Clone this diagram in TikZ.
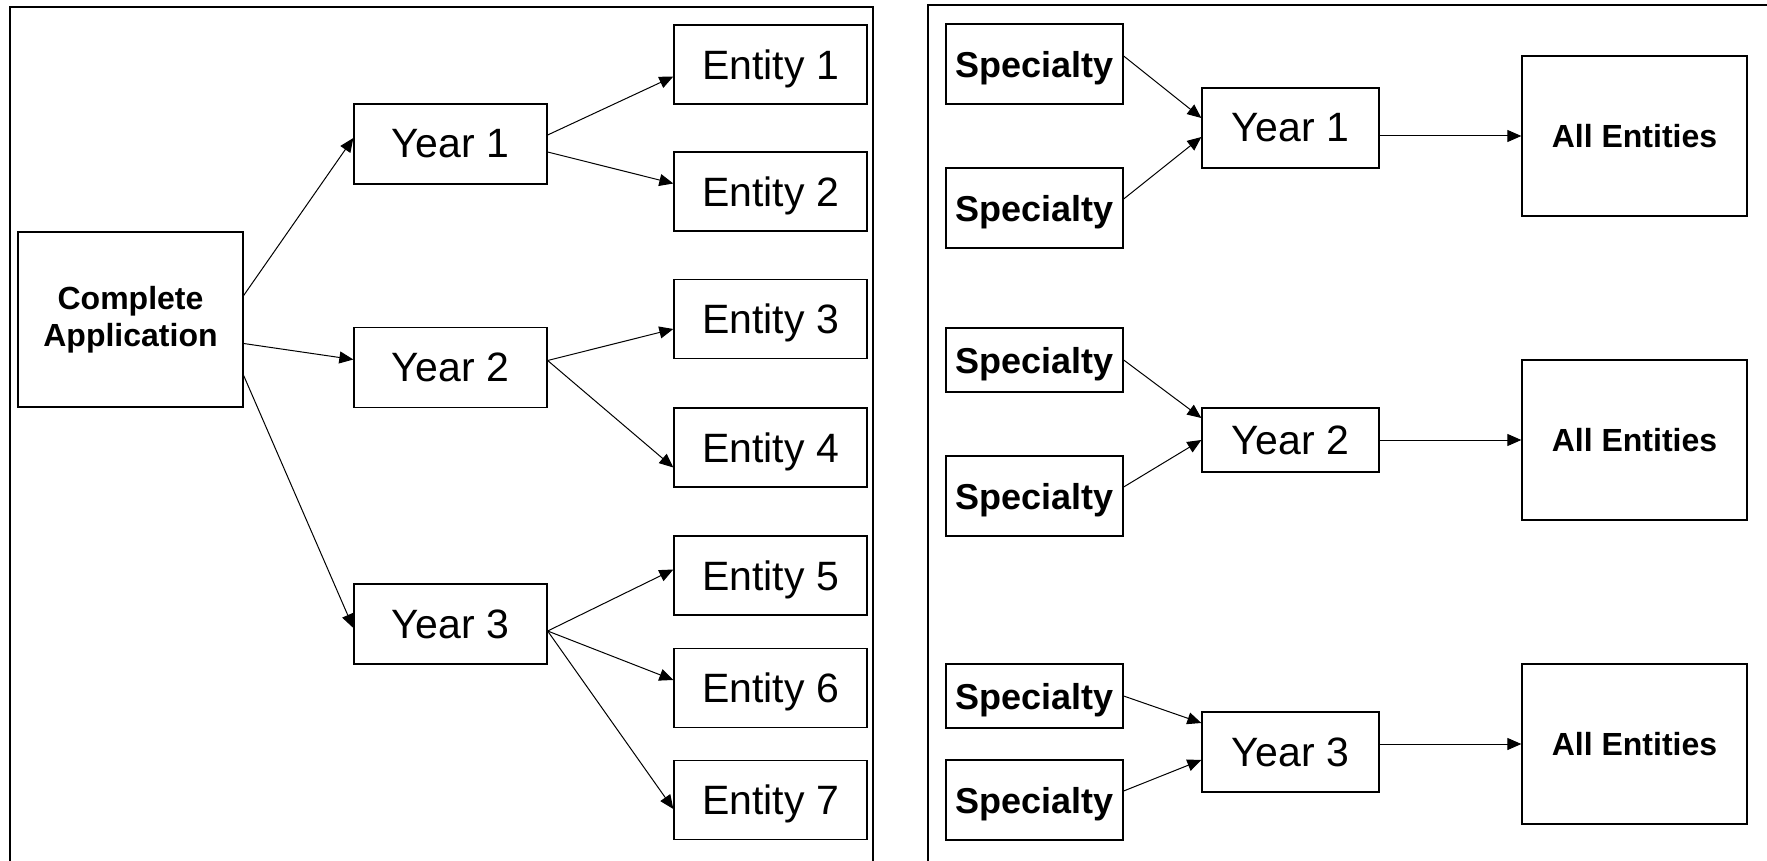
\documentclass[tikz,border=0pt]{standalone}
\usepackage{fontspec}
\setmainfont{Liberation Sans}
\usetikzlibrary{arrows.meta}

\begin{document}
\begin{tikzpicture}[
    x=0.5pt, y=-0.5pt,
    box/.style={rectangle, draw, line width=0.65pt, inner sep=0pt, align=center},
    yr/.style={box, minimum width=96.5pt, minimum height=40pt,
               font=\fontsize{20.5}{24}\selectfont},
    ent/.style={box, minimum width=96.5pt, minimum height=39.5pt, text depth=0pt,
                font=\fontsize{20.5}{24}\selectfont},
    spec/.style={box, minimum width=88.5pt, minimum height=40pt, text depth=0pt,
                 font=\fontsize{18}{21}\selectfont\bfseries},
    allent/.style={box, minimum width=112.5pt, minimum height=80pt,
                   font=\fontsize{16}{19}\selectfont\bfseries},
    arr/.style={-{Triangle[length=7pt, width=6pt]}, line width=0.5pt},
    frame/.style={line width=0.7pt},
]
\useasboundingbox (0,0) rectangle (1767,861);

% Left panel — application split by year
\draw[frame] (10,861) -- (10,7) -- (873,7) -- (873,861);

\node[box, minimum width=112.5pt, minimum height=87.5pt,
      font=\fontsize{16}{18.5}\selectfont\bfseries]
      (app) at (130.5,319.5) {Complete\\Application};

\node[yr] (y1) at (450.5,144)   {Year 1};
\node[yr] (y2) at (450.5,367.5) {Year 2};
\node[yr] (y3) at (450.5,624)   {Year 3};

\node[ent] (e1) at (770.5,64.5)  {Entity 1};
\node[ent] (e2) at (770.5,191.5) {Entity 2};
\node[ent] (e3) at (770.5,319)   {Entity 3};
\node[ent] (e4) at (770.5,447.5) {Entity 4};
\node[ent] (e5) at (770.5,575.5) {Entity 5};
\node[ent] (e6) at (770.5,688)   {Entity 6};
\node[ent] (e7) at (770.5,800)   {Entity 7};

% Arrows application → years
\draw[arr] ([yshift=12pt]app.east)  -- ([yshift=3pt]y1.west);
\draw[arr] ([yshift=-12pt]app.east) -- ([yshift=4pt]y2.west);
\draw[arr] ([yshift=-28pt]app.east) -- ([yshift=-2pt]y3.west);

% Arrows years → entities
\draw[arr] ([yshift=4.5pt]y1.east)  -- ([yshift=-6pt]e1.west);
\draw[arr] ([yshift=-4pt]y1.east)   -- ([yshift=4pt]e2.west);
\draw[arr] ([yshift=3.5pt]y2.east)  -- ([yshift=-5pt]e3.west);
\draw[arr] ([yshift=3.5pt]y2.east)  -- ([yshift=-10pt]e4.west);
\draw[arr] ([yshift=-3.5pt]y3.east) -- ([yshift=3pt]e5.west);
\draw[arr] ([yshift=-3.5pt]y3.east) -- ([yshift=4pt]e6.west);
\draw[arr] ([yshift=-3.5pt]y3.east) -- ([yshift=-4.5pt]e7.west);

% Right panel — specialties by year
\draw[frame] (928,861) -- (928,5) -- (1767,5);

\node[spec] (s1) at (1034.5,64)  {Specialty};
\node[spec] (s2) at (1034.5,208) {Specialty};
\node[spec, minimum height=32pt] (s3) at (1034.5,360) {Specialty};
\node[spec] (s4) at (1034.5,496) {Specialty};
\node[spec, minimum height=32pt] (s5) at (1034.5,696) {Specialty};
\node[spec] (s6) at (1034.5,800) {Specialty};

\node[yr, minimum width=88.5pt] (r1) at (1290.5,128) {Year 1};
\node[yr, minimum width=88.5pt, minimum height=32pt] (r2) at (1290.5,440) {Year 2};
\node[yr, minimum width=88.5pt] (r3) at (1290.5,752) {Year 3};

\node[allent] (a1) at (1634.5,136) {All Entities};
\node[allent] (a2) at (1634.5,440) {All Entities};
\node[allent] (a3) at (1634.5,744) {All Entities};

% Arrows specialties → years
\draw[arr] ([yshift=4pt]s1.east)   -- ([yshift=5pt]r1.west);
\draw[arr] ([yshift=4.5pt]s2.east) -- ([yshift=-4.5pt]r1.west);
\draw[arr] (s3.east)               -- ([yshift=11pt]r2.west);
\draw[arr] ([yshift=4.5pt]s4.east) -- (r2.west);
\draw[arr] (s5.east)               -- ([yshift=14.5pt]r3.west);
\draw[arr] ([yshift=4.5pt]s6.east) -- ([yshift=-4pt]r3.west);

% Arrows years → all entities
\draw[arr] (r1.east |- a1.west) -- (a1.west);
\draw[arr] (r2.east |- a2.west) -- (a2.west);
\draw[arr] (r3.east |- a3.west) -- (a3.west);

\end{tikzpicture}
\end{document}
